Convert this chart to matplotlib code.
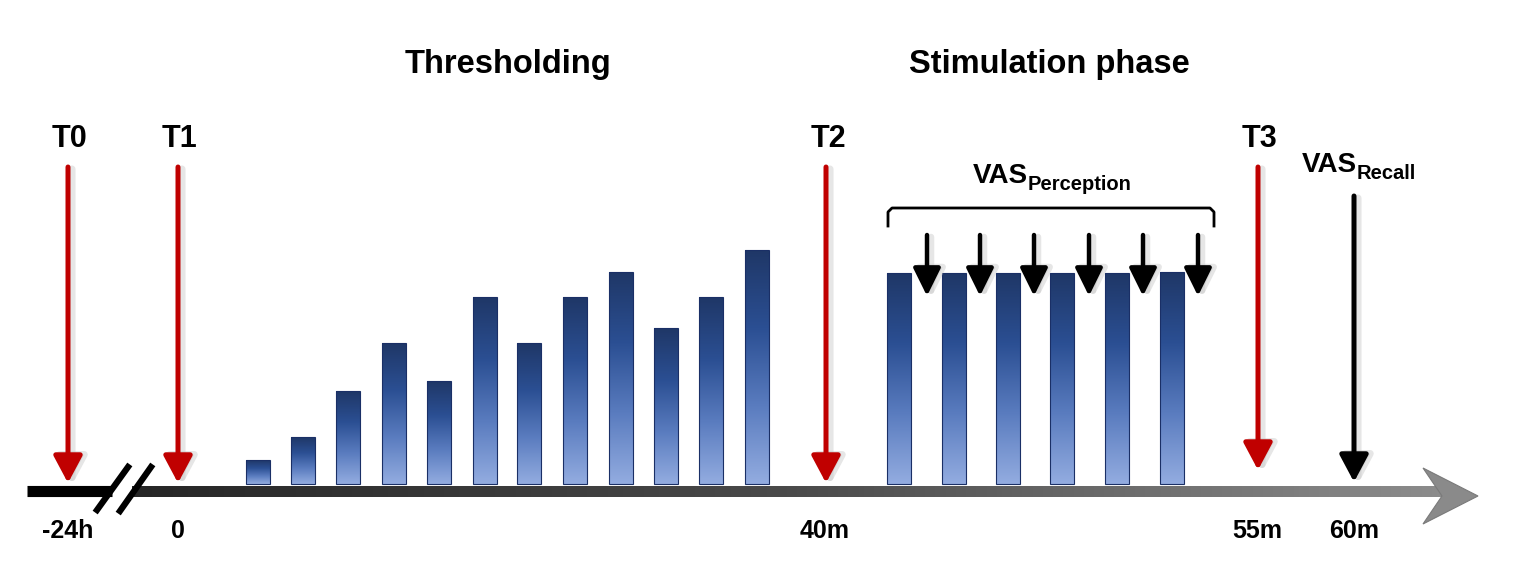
import numpy as np
import matplotlib.pyplot as plt
from matplotlib.patches import Polygon
from matplotlib.colors import LinearSegmentedColormap

plt.rcParams['font.family'] = ['Liberation Sans', 'DejaVu Sans']

# thresholding stimuli (relative intensity, pixels above the time line)
thr_x = [258, 303, 348, 394, 439, 485, 529, 575, 621, 666, 711, 757]
thr_h = [24, 47, 93, 141, 103, 187, 141, 187, 212, 156, 187, 234]
# stimulation phase stimuli
stim_x = [899, 954, 1008, 1062, 1117, 1172]
stim_h = [211, 211, 211, 211, 211, 212]
# VAS perception ratings (small arrows)
vas_x = [927, 980, 1034, 1089, 1143, 1198]

# time points
t_names = ["T0", "T1", "T2", "T3"]
t_x = [68, 178, 826, 1258]
tick_labels = ["-24h", "0", "40m", "55m", "60m"]
tick_x = [68, 178, 825, 1257, 1354]
recall_x = 1354

BASE = 484
RED = "#c00000"

fig = plt.figure(figsize=(15.35, 5.7), dpi=100)
ax = fig.add_axes([0, 0, 1, 1])
ax.set_xlim(0, 1535)
ax.set_ylim(570, 0)
ax.axis("off")

bar_cmap = LinearSegmentedColormap.from_list(
    "bars", ["#1f3767", "#2b4f93", "#5a7cbf", "#93ace0"])
grad = np.linspace(0, 1, 256).reshape(-1, 1)


def draw_bars(xs, hs):
    bars = ax.bar(xs, [-h for h in hs], width=24, bottom=BASE,
                  facecolor="none", edgecolor="#1a2f66", linewidth=0.8, zorder=3)
    for b in bars:
        x0, w = b.get_x(), b.get_width()
        top = b.get_y() + b.get_height()
        im = ax.imshow(grad, cmap=bar_cmap, aspect="auto",
                       extent=[x0, x0 + w, BASE, top], zorder=2)
        im.set_clip_path(b)


def down_arrow(x, y0, y1, color, lw=3.6, hw=0.4, hl=0.75, ms=22):
    style = f"-|>,head_length={hl},head_width={hw}"
    # soft shadow
    ax.annotate("", xy=(x + 4, y1 + 2), xytext=(x + 4, y0 + 2),
                arrowprops=dict(arrowstyle=style, lw=lw + 1.5, color="#c8c8c8",
                                alpha=0.45, mutation_scale=ms,
                                shrinkA=0, shrinkB=0), zorder=4)
    ax.annotate("", xy=(x, y1), xytext=(x, y0),
                arrowprops=dict(arrowstyle=style, lw=lw, color=color,
                                mutation_scale=ms, shrinkA=0, shrinkB=0), zorder=5)


# time line
ax.plot([27, 112], [491, 491], color="black", lw=8, solid_capstyle="butt", zorder=3)
line_cmap = LinearSegmentedColormap.from_list("line", ["#262626", "#4a4a4a", "#8c8c8c"])
ax.imshow(np.linspace(0, 1, 256).reshape(1, -1), cmap=line_cmap, aspect="auto",
          extent=[132, 1442, 497, 486], zorder=3)
ax.add_patch(Polygon([(1423, 468), (1478, 496), (1423, 524), (1442, 496)],
                     closed=True, facecolor="#8a8a8a", edgecolor="#7a7a7a", lw=0.8, zorder=3))
# axis break
ax.plot([97, 128], [510, 467], color="black", lw=4.5, zorder=4)
ax.plot([120, 151], [511, 467], color="black", lw=4.5, zorder=4)

draw_bars(thr_x, thr_h)
draw_bars(stim_x, stim_h)

# time point arrows
for name, x in zip(t_names, t_x):
    tip = 470 if name == "T3" else 483
    down_arrow(x, 167, tip, RED)
    ax.text(x + 2, 147, name, ha="center", va="baseline",
            fontsize=22, fontweight="bold")
down_arrow(recall_x, 196, 482, "black")

for x in vas_x:
    down_arrow(x, 235, 296, "black", lw=3.2, hw=0.42, hl=0.85, ms=20)

# bracket over VAS perception
ax.plot([888, 888, 892, 1210, 1214, 1214], [226, 212, 208, 208, 212, 226],
        color="black", lw=2, zorder=4, solid_joinstyle="round")

# tick labels
for lab, x in zip(tick_labels, tick_x):
    ax.text(x, 538, lab, ha="center", va="baseline", fontsize=18, fontweight="bold")

# phase titles
ax.text(508, 73, "Thresholding", ha="center", va="baseline",
        fontsize=23.5, fontweight="bold")
ax.text(1049, 73, "Stimulation phase", ha="center", va="baseline",
        fontsize=23.5, fontweight="bold")

# VAS labels
ax.text(1028, 183, "VAS", ha="right", va="baseline", fontsize=20, fontweight="bold")
ax.text(1028, 190, "Perception", ha="left", va="baseline", fontsize=14.5, fontweight="bold")
ax.text(1357, 172, "VAS", ha="right", va="baseline", fontsize=20, fontweight="bold")
ax.text(1357, 179, "Recall", ha="left", va="baseline", fontsize=14.5, fontweight="bold")

fig.savefig("out.png", dpi=100, facecolor="white")
